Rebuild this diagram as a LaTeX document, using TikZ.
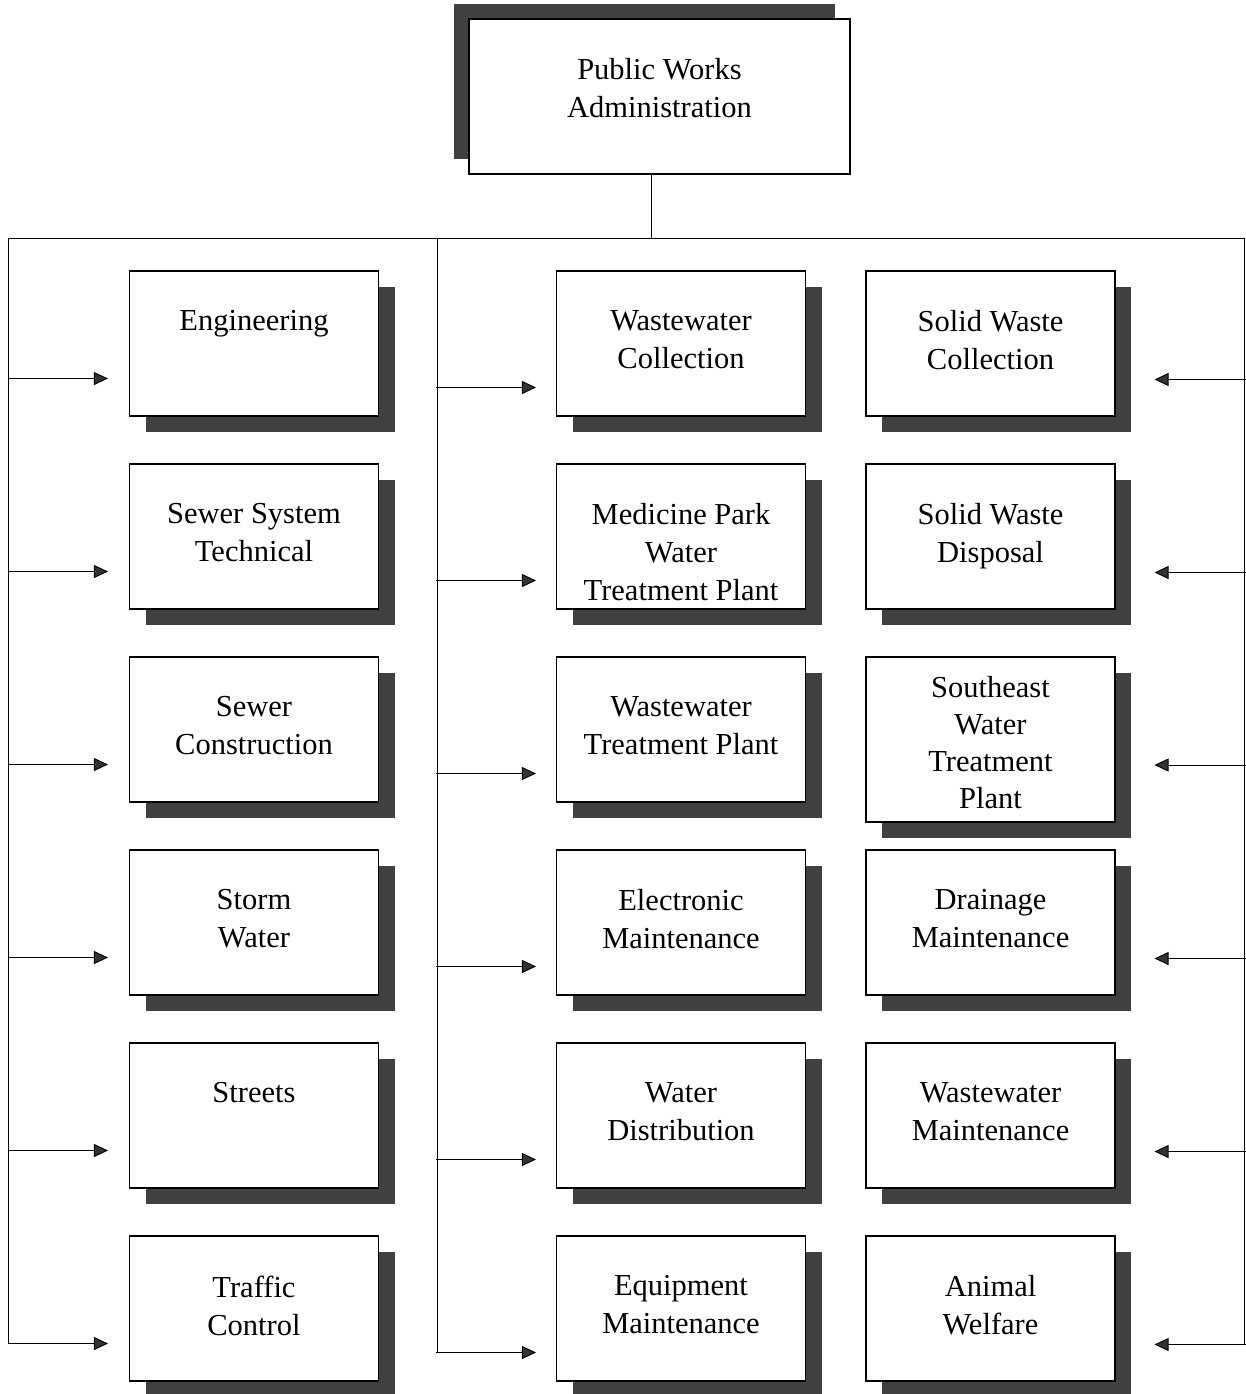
\documentclass[tikz,border=0pt]{standalone}
\usepackage{fontspec}
\setmainfont{Liberation Serif}
\usetikzlibrary{positioning,arrows.meta,shadows}

\tikzset{
  box/.style={draw, line width=1.1pt, fill=white, minimum width=249pt, minimum height=145pt, inner sep=0pt},
  unit/.style={box, drop shadow={shadow xshift=16pt, shadow yshift=-16pt, fill=black!75, opacity=1}},
  head/.style={box, minimum width=381pt, minimum height=155pt,
    drop shadow={shadow xshift=-15pt, shadow yshift=15pt, fill=black!75, opacity=1}},
  lbl/.style={align=center, inner sep=0pt, font=\fontsize{30.5}{38}\selectfont},
  link/.style={line width=0.9pt},
  arr/.style={line width=0.9pt, -{Triangle[length=14pt,width=13pt,fill=black!80]}},
}

\begin{document}
\begin{tikzpicture}[x=1pt,y=-1pt]
  \useasboundingbox (0,0) rectangle (1245,1394);

  % administration
  \node[head] (pwa) at (659.5,96.5) {};
  \node[lbl, below=40pt of pwa.north] (pwa-t) {Public Works\\Administration};

  % bus lines
  \coordinate (bus) at (651,238);
  \coordinate (lt) at (8,238);
  \coordinate (lb) at (8,1343.5);
  \coordinate (mt) at (437,238);
  \coordinate (mb) at (437,1352.5);
  \coordinate (rt) at (1244,238);
  \coordinate (rb) at (1244,1344.5);
  \draw[link] (pwa.south -| bus) -- (bus);
  \draw[link] (lb) -- (lt) -- (rt) -- (rb);
  \draw[link] (mt) -- (mb);

  % left column
  \node[unit] (eng) at (254,343.5) {};
  \node[unit] (sst) at (254,536.5) {};
  \node[unit] (scon) at (254,729.5) {};
  \node[unit] (stw) at (254,922.5) {};
  \node[unit] (str) at (254,1115.5) {};
  \node[unit] (tfc) at (254,1308.5) {};
  \node[lbl, below=40pt of eng.north] (eng-t) {Engineering};
  \node[lbl, below=40pt of sst.north] (sst-t) {Sewer System\\Technical};
  \node[lbl, below=40pt of scon.north] (scon-t) {Sewer\\Construction};
  \node[lbl, below=40pt of stw.north] (stw-t) {Storm\\Water};
  \node[lbl, below=40pt of str.north] (str-t) {Streets};
  \node[lbl, below=40pt of tfc.north] (tfc-t) {Traffic\\Control};

  % middle column
  \node[unit] (wwc) at (681,343.5) {};
  \node[unit] (mpw) at (681,536.5) {};
  \node[unit] (wwt) at (681,729.5) {};
  \node[unit] (elm) at (681,922.5) {};
  \node[unit] (wds) at (681,1115.5) {};
  \node[unit] (eqm) at (681,1308.5) {};
  \node[lbl, below=40pt of wwc.north] (wwc-t) {Wastewater\\Collection};
  \node[lbl, below=40pt of mpw.north] (mpw-t) {Medicine Park\\Water\\Treatment Plant};
  \node[lbl, below=40pt of wwt.north] (wwt-t) {Wastewater\\Treatment Plant};
  \node[lbl, below=40pt of elm.north] (elm-t) {Electronic\\Maintenance};
  \node[lbl, below=40pt of wds.north] (wds-t) {Water\\Distribution};
  \node[lbl, below=40pt of eqm.north] (eqm-t) {Equipment\\Maintenance};

  % right column
  \node[unit] (swc) at (990.5,343.5) {};
  \node[unit] (swd) at (990.5,536.5) {};
  \node[unit, minimum height=165pt] (sew) at (990.5,739.5) {};
  \node[unit] (drm) at (990.5,922.5) {};
  \node[unit] (wwm) at (990.5,1115.5) {};
  \node[unit] (anw) at (990.5,1308.5) {};
  \node[lbl, below=40pt of swc.north] (swc-t) {Solid Waste\\Collection};
  \node[lbl, below=40pt of swd.north] (swd-t) {Solid Waste\\Disposal};
  \node[lbl, below=20pt of sew.north, font=\fontsize{30.5}{37}\selectfont] (sew-t) {Southeast\\Water\\Treatment\\Plant};
  \node[lbl, below=40pt of drm.north] (drm-t) {Drainage\\Maintenance};
  \node[lbl, below=40pt of wwm.north] (wwm-t) {Wastewater\\Maintenance};
  \node[lbl, below=40pt of anw.north] (anw-t) {Animal\\Welfare};

  % arrows
  \draw[arr] ([xshift=-120pt,yshift=-35pt]eng.west) -- ([xshift=-21pt,yshift=-35pt]eng.west);
  \draw[arr] ([xshift=-120pt,yshift=-35pt]sst.west) -- ([xshift=-21pt,yshift=-35pt]sst.west);
  \draw[arr] ([xshift=-120pt,yshift=-35pt]scon.west) -- ([xshift=-21pt,yshift=-35pt]scon.west);
  \draw[arr] ([xshift=-120pt,yshift=-35pt]stw.west) -- ([xshift=-21pt,yshift=-35pt]stw.west);
  \draw[arr] ([xshift=-120pt,yshift=-35pt]str.west) -- ([xshift=-21pt,yshift=-35pt]str.west);
  \draw[arr] ([xshift=-120pt,yshift=-35pt]tfc.west) -- ([xshift=-21pt,yshift=-35pt]tfc.west);

  \draw[arr] ([xshift=-120pt,yshift=-44pt]wwc.west) -- ([xshift=-20pt,yshift=-44pt]wwc.west);
  \draw[arr] ([xshift=-120pt,yshift=-44pt]mpw.west) -- ([xshift=-20pt,yshift=-44pt]mpw.west);
  \draw[arr] ([xshift=-120pt,yshift=-44pt]wwt.west) -- ([xshift=-20pt,yshift=-44pt]wwt.west);
  \draw[arr] ([xshift=-120pt,yshift=-44pt]elm.west) -- ([xshift=-20pt,yshift=-44pt]elm.west);
  \draw[arr] ([xshift=-120pt,yshift=-44pt]wds.west) -- ([xshift=-20pt,yshift=-44pt]wds.west);
  \draw[arr] ([xshift=-120pt,yshift=-44pt]eqm.west) -- ([xshift=-20pt,yshift=-44pt]eqm.west);

  \draw[arr] ([xshift=131pt,yshift=-36pt]swc.east) -- ([xshift=39pt,yshift=-36pt]swc.east);
  \draw[arr] ([xshift=131pt,yshift=-36pt]swd.east) -- ([xshift=39pt,yshift=-36pt]swd.east);
  \draw[arr] ([xshift=131pt,yshift=-25.5pt]sew.east) -- ([xshift=39pt,yshift=-25.5pt]sew.east);
  \draw[arr] ([xshift=131pt,yshift=-36pt]drm.east) -- ([xshift=39pt,yshift=-36pt]drm.east);
  \draw[arr] ([xshift=131pt,yshift=-36pt]wwm.east) -- ([xshift=39pt,yshift=-36pt]wwm.east);
  \draw[arr] ([xshift=131pt,yshift=-36pt]anw.east) -- ([xshift=39pt,yshift=-36pt]anw.east);
\end{tikzpicture}
\end{document}
